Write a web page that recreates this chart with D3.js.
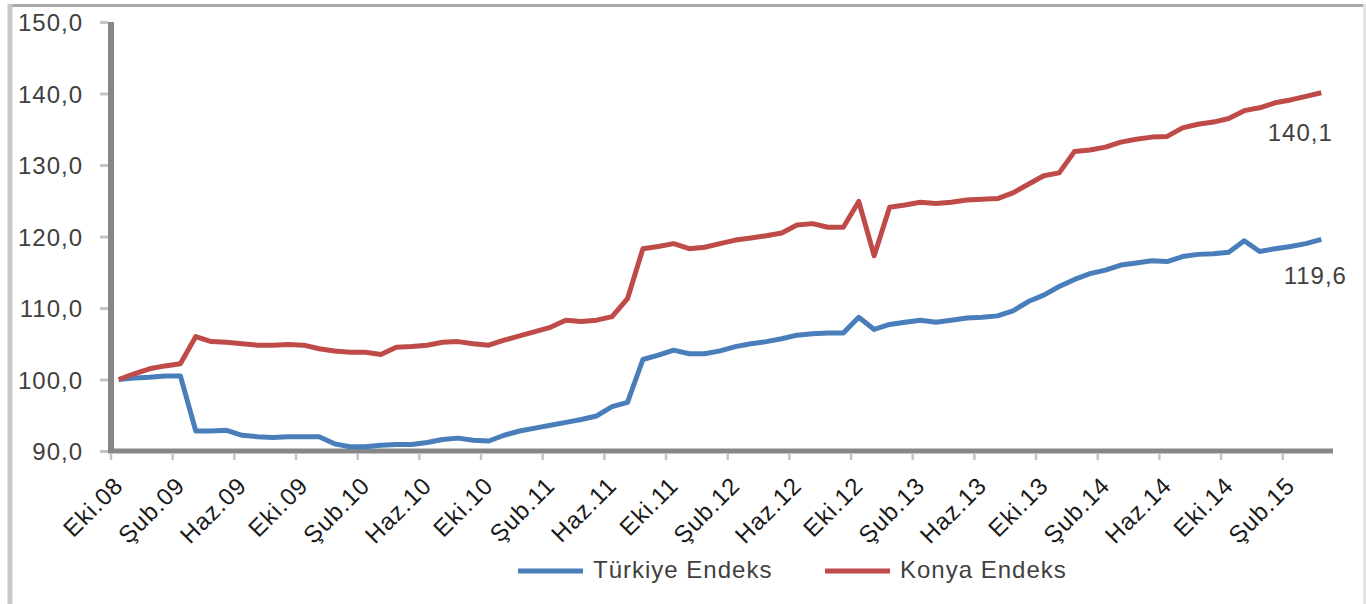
<!DOCTYPE html>
<html><head><meta charset="utf-8">
<script src="https://cdn.jsdelivr.net/npm/d3@7"></script>
<style>
html,body{margin:0;padding:0;background:#fff;}
svg text{font-family:"Liberation Sans",Arial,sans-serif;}
</style></head>
<body><svg id="c" width="1366" height="604"></svg>
<script>
const monthNames = ["Oca","Şub","Mar","Nis","May","Haz","Tem","Ağu","Eyl","Eki","Kas","Ara"];
const startMonth = 9, startYear = 2008, nPoints = 79;
const categories = d3.range(nPoints).map(i => {
  const m = (startMonth + i) % 12, y = startYear + Math.floor((startMonth + i) / 12);
  return monthNames[m] + "." + String(y % 100).padStart(2, "0");
});
const tickLabels = ["Eki.08","Şub.09","Haz.09","Eki.09","Şub.10","Haz.10","Eki.10","Şub.11","Haz.11","Eki.11","Şub.12","Haz.12","Eki.12","Şub.13","Haz.13","Eki.13","Şub.14","Haz.14","Eki.14","Şub.15"];
const turkiye = [100.0,100.2,100.3,100.5,100.5,92.8,92.8,92.9,92.2,92.0,91.9,92.0,92.0,92.0,91.0,90.6,90.6,90.8,90.9,90.9,
  91.2,91.6,91.8,91.5,91.4,92.2,92.8,93.2,93.6,94.0,94.4,94.9,96.2,96.8,102.8,103.4,104.1,103.6,103.6,104.0,
  104.6,105.0,105.3,105.7,106.2,106.4,106.5,106.5,108.7,107.0,107.7,108.0,108.3,108.0,108.3,108.6,108.7,108.9,109.6,110.9,
  111.8,113.0,114.0,114.8,115.3,116.0,116.3,116.6,116.5,117.2,117.5,117.6,117.8,119.4,117.9,118.3,118.6,119.0,119.6];
const konya = [100.0,100.8,101.5,101.9,102.2,106.0,105.3,105.2,105.0,104.8,104.8,104.9,104.8,104.3,104.0,103.8,103.8,103.5,104.5,104.6,
  104.8,105.2,105.3,105.0,104.8,105.5,106.1,106.7,107.3,108.3,108.1,108.3,108.8,111.3,118.3,118.6,119.0,118.3,118.5,119.0,
  119.5,119.8,120.1,120.5,121.6,121.8,121.3,121.3,124.9,117.3,124.1,124.4,124.8,124.6,124.8,125.1,125.2,125.3,126.1,127.3,
  128.5,128.9,131.9,132.1,132.5,133.2,133.6,133.9,134.0,135.2,135.7,136.0,136.5,137.6,138.0,138.7,139.1,139.6,140.1];
const yTicks = [90,100,110,120,130,140,150];
const seriesNames = ["Türkiye Endeks","Konya Endeks"];
const seriesColors = ["#4a7ebb","#be4b48"];

const svg = d3.select("#c");
svg.append("rect").attr("width",1366).attr("height",604).attr("fill","#fff");
// outer frame
svg.append("line").attr("x1",9).attr("x2",1366).attr("y1",5.5).attr("y2",5.5).attr("stroke","#aaaaaa").attr("stroke-width",3);
svg.append("line").attr("x1",10).attr("x2",10).attr("y1",4).attr("y2",604).attr("stroke","#c8c8c8").attr("stroke-width",5);
svg.append("line").attr("x1",1364.5).attr("x2",1364.5).attr("y1",4).attr("y2",604).attr("stroke","#e4e4e4").attr("stroke-width",3);

const x0 = 111, x1 = 1329, yTop = 22, yBot = 451;
const x = d3.scalePoint().domain(categories).range([x0, x1]).padding(0.5);
const step = x.step();
const y = d3.scaleLinear().domain([90,150]).range([yBot, yTop]);
const fmt = v => d3.format(".1f")(v).replace(".", ",");

// y axis
const gy = svg.append("g").attr("transform",`translate(${x0},0)`)
  .call(d3.axisLeft(y).tickValues(yTicks).tickFormat(fmt).tickSize(8).tickPadding(20));
gy.select(".domain").remove();
gy.selectAll(".tick line").attr("stroke","#c4c4c4").attr("stroke-width",3).attr("transform","translate(-3,0)");
gy.selectAll(".tick text").attr("fill","#404040").attr("font-size",24).style("letter-spacing","1px").attr("dy","0.36em");
svg.append("line").attr("x1",x0).attr("x2",x0).attr("y1",yTop).attr("y2",yBot+2).attr("stroke","#878787").attr("stroke-width",6);

// x axis
const tickIdx = d3.range(0, nPoints, 4);
svg.append("g").selectAll("line").data(tickIdx).join("line")
  .attr("x1", i => x(categories[i]) - step/2).attr("x2", i => x(categories[i]) - step/2)
  .attr("y1", yBot+3).attr("y2", yBot+9).attr("stroke","#c4c4c4").attr("stroke-width",2.5);
svg.append("line").attr("x1",x0-3).attr("x2",x1+4).attr("y1",yBot).attr("y2",yBot).attr("stroke","#878787").attr("stroke-width",5);
svg.append("g").selectAll("text").data(tickLabels).join("text")
  .attr("transform", d => `translate(${x(d)+6},${yBot+36}) rotate(-45)`)
  .attr("text-anchor","end").attr("font-size",24).style("letter-spacing","1px")
  .attr("fill","#1a1a1a").text(d => d);

// lines
const line = d3.line().x((d,i) => x(categories[i])).y(d => y(d));
[turkiye, konya].forEach((s, k) => {
  svg.append("path").datum(s).attr("d", line).attr("fill","none")
    .attr("stroke", seriesColors[k]).attr("stroke-width",5).attr("stroke-linejoin","round");
});

// data labels
const last = nPoints - 1;
svg.append("text").attr("x", x(categories[last]) - 21).attr("y", y(konya[last]) + 40).attr("dy","0.36em")
  .attr("text-anchor","middle").attr("font-size",24).style("letter-spacing","1px").attr("fill","#404040").text(fmt(konya[last]));
svg.append("text").attr("x", x(categories[last]) - 6).attr("y", y(turkiye[last]) + 36).attr("dy","0.36em")
  .attr("text-anchor","middle").attr("font-size",24).style("letter-spacing","1px").attr("fill","#404040").text(fmt(turkiye[last]));

// legend
const legX = [518, 825];
const leg = svg.append("g");
seriesNames.forEach((n, k) => {
  leg.append("line").attr("x1", legX[k]).attr("x2", legX[k]+65).attr("y1",571).attr("y2",571)
    .attr("stroke", seriesColors[k]).attr("stroke-width",5);
  leg.append("text").attr("x", legX[k]+75).attr("y",578).attr("font-size",24).style("letter-spacing","1px")
    .attr("fill","#404040").text(n);
});
</script></body></html>
